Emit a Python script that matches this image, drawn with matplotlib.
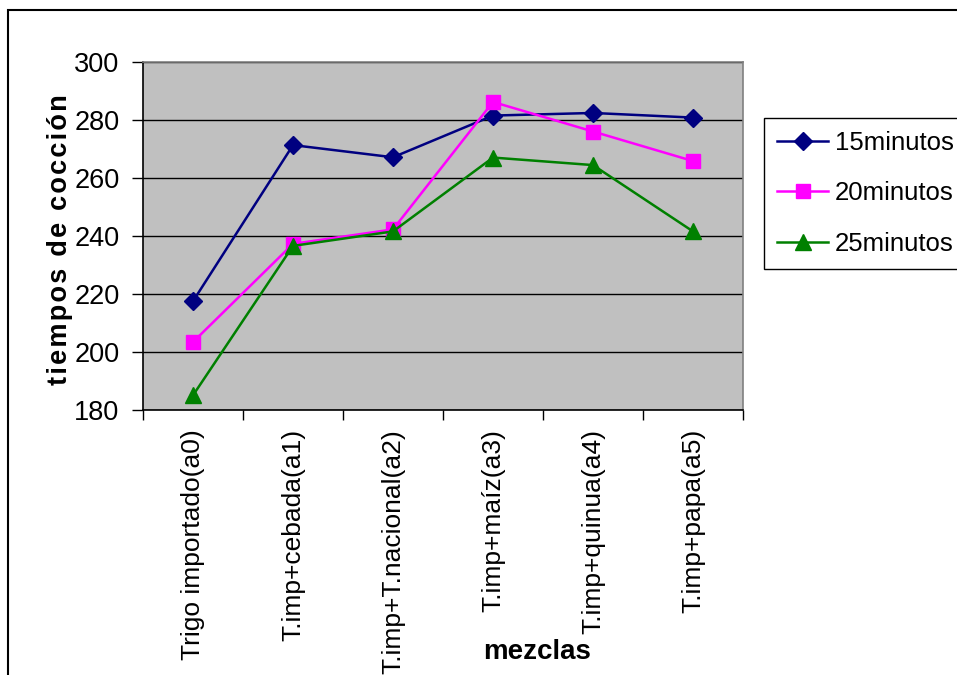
import matplotlib.pyplot as plt
from matplotlib.patches import Rectangle

plt.rcParams['font.family'] = ['Liberation Sans', 'DejaVu Sans']

# mezclas y tiempos de coccion
mezclas = ['Trigo importado(a0)', 'T.imp+cebada(a1)', 'T.imp+T.nacional(a2)',
           'T.imp+maíz(a3)', 'T.imp+quinua(a4)', 'T.imp+papa(a5)']
t15 = [217.4, 271.3, 267.1, 281.5, 282.4, 280.8]
t20 = [203.3, 237.2, 242.2, 286.2, 276.0, 265.8]
t25 = [184.9, 236.5, 241.5, 267.0, 264.4, 241.5]

W, H = 957, 675
fig = plt.figure(figsize=(W / 100, H / 100), dpi=100)
ax = fig.add_axes([143 / W, 1 - 409.5 / H, 600 / W, 347.5 / H])
ax.set_facecolor('#c0c0c0')

x = range(len(mezclas))
ax.plot(x, t15, color='#000080', marker='D', markersize=9, lw=1.8, label='15minutos')
ax.plot(x, t20, color='#ff00ff', marker='s', markersize=9.5, lw=1.8, label='20minutos')
ax.plot(x, t25, color='#008000', marker='^', markersize=11, lw=1.8, label='25minutos')

ax.set_xlim(-0.5, len(mezclas) - 0.5)
ax.set_ylim(180, 300)
ax.set_yticks(range(180, 301, 20))
ax.yaxis.grid(True, color='black', lw=1)
ax.set_axisbelow(True)

# ticks entre categorias, etiquetas centradas
ax.set_xticks([i - 0.5 for i in range(len(mezclas) + 1)])
ax.set_xticklabels([])
ax.set_xticks(list(x), minor=True)
ax.set_xticklabels(mezclas, minor=True, rotation=90, fontsize=19, va='top')
ax.tick_params(axis='x', which='minor', length=0, pad=14)
ax.tick_params(axis='x', which='major', length=7, width=1, direction='out')
ax.tick_params(axis='y', length=8, width=1, direction='out', pad=9, labelsize=19.5)

ax.spines['left'].set_color('black')
ax.spines['bottom'].set_color('black')
ax.spines['top'].set_color('#808080')
ax.spines['right'].set_color('#808080')
for s in ax.spines.values():
    s.set_linewidth(1.2)

fig.text(537 / W, 1 - 652 / H, 'mezclas', fontsize=20, fontweight='bold',
         ha='center', va='center')
ylab = '\u200a'.join('tiempos de cocción')
fig.text(60 / W, 1 - 240 / H, ylab, fontsize=19.5, fontweight='bold',
         rotation=90, ha='center', va='center')

leg = ax.legend(loc='upper left', bbox_to_anchor=(764 / W, 1 - 118 / H),
                bbox_transform=fig.transFigure, fontsize=18.5, frameon=True,
                fancybox=False, edgecolor='black', framealpha=1,
                handlelength=2.0, handletextpad=0.25,
                borderpad=0.5, labelspacing=1.03, borderaxespad=0)
leg.get_frame().set_linewidth(1)

# marco exterior del grafico
fig.patches.append(Rectangle((8 / W, -0.1), 1.2, 1 - 10 / H + 0.1,
                             transform=fig.transFigure, fill=False,
                             edgecolor='black', lw=1.5))

fig.savefig('out.png', dpi=100)
